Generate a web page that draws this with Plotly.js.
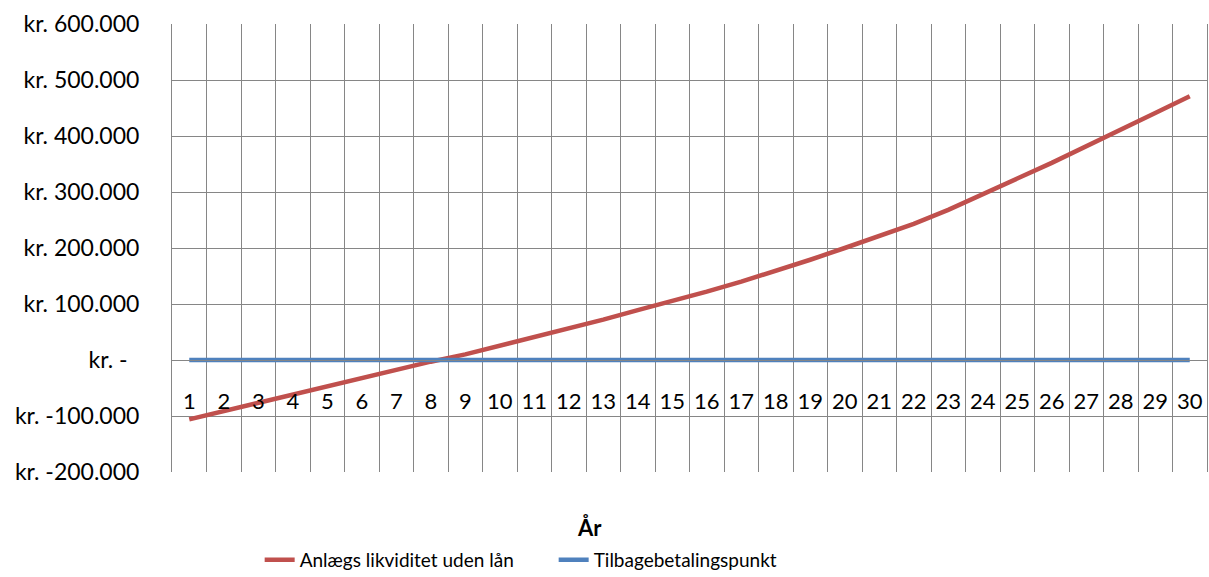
<!DOCTYPE html>
<html>
<head>
<meta charset="utf-8">
<script src="https://cdn.plot.ly/plotly-3.0.1.min.js"></script>
<style>html,body{margin:0;padding:0;background:#fff;}#chart{width:1209px;height:577px;}</style>
</head>
<body>
<div id="chart"></div>
<script>
const years = ['1','2','3','4','5','6','7','8','9','10','11','12','13','14','15','16','17','18','19','20','21','22','23','24','25','26','27','28','29','30'];
const likviditet = [-106000,-91000,-76500,-62000,-47500,-33000,-18000,-3000,10000,25000,40000,56000,72000,89000,105000,122000,140000,159000,179000,200000,221000,243000,268000,295000,324000,352000,381000,411000,441000,471000];
const tilbagebetaling = [0,0,0,0,0,0,0,0,0,0,0,0,0,0,0,0,0,0,0,0,0,0,0,0,0,0,0,0,0,0];
const yTickVals = [-200000,-100000,0,100000,200000,300000,400000,500000,600000];
const yTickText = ['kr. -200.000','kr. -100.000','kr. -\u00a0\u00a0','kr. 100.000','kr. 200.000','kr. 300.000','kr. 400.000','kr. 500.000','kr. 600.000'];
const seriesNames = ['Anlægs likviditet uden lån','Tilbagebetalingspunkt'];
const xTitle = 'År';

const FONT = 'Lato, "Open Sans", sans-serif';
const GRID = '#868686';

const data = [
  {x: years, y: likviditet, type: 'scatter', mode: 'lines', name: seriesNames[0],
   line: {color: '#C0504D', width: 4.5}},
  {x: years, y: tilbagebetaling, type: 'scatter', mode: 'lines', name: seriesNames[1],
   line: {color: '#4F81BD', width: 4.5}}
];

const layout = {
  width: 1209, height: 577,
  margin: {l: 172, r: 2, t: 24, b: 105, pad: 0, autoexpand: false},
  paper_bgcolor: '#fff', plot_bgcolor: '#fff',
  font: {family: FONT, size: 23, color: '#000'},
  showlegend: true,
  legend: {orientation: 'h', x: 0.0847, xanchor: 'left', y: -0.196, yanchor: 'middle',
           font: {family: FONT, size: 19, color: '#000'}, entrywidth: 249, entrywidthmode: 'pixels',
           bgcolor: 'rgba(0,0,0,0)', itemclick: false},
  xaxis: {type: 'category', range: [-0.5, 29.5], tickson: 'boundaries', tickangle: 0,
          showgrid: true, gridcolor: GRID, gridwidth: 1, ticks: '',
          anchor: 'free', position: 0.25, showline: true, linecolor: GRID, linewidth: 1,
          ticklabelstandoff: 22, tickfont: {family: FONT, size: 22, color: '#000'}, fixedrange: true},
  yaxis: {range: [-200000, 600000], tickvals: yTickVals, ticktext: yTickText,
          showgrid: true, gridcolor: GRID, gridwidth: 1, zeroline: false, ticks: '',
          showline: true, mirror: true, linecolor: GRID, linewidth: 1,
          ticklabelstandoff: 27, tickfont: {family: FONT, size: 23, color: '#000'}, fixedrange: true},
  annotations: [{text: '<b>' + xTitle + '</b>', xref: 'paper', yref: 'paper',
                 x: (589 - 172) / 1035, y: (472 - 527) / 448, xanchor: 'center', yanchor: 'middle',
                 showarrow: false, font: {family: FONT, size: 22, color: '#000'}}]
};

Plotly.newPlot('chart', data, layout, {displayModeBar: false, staticPlot: true});
</script>
</body>
</html>
